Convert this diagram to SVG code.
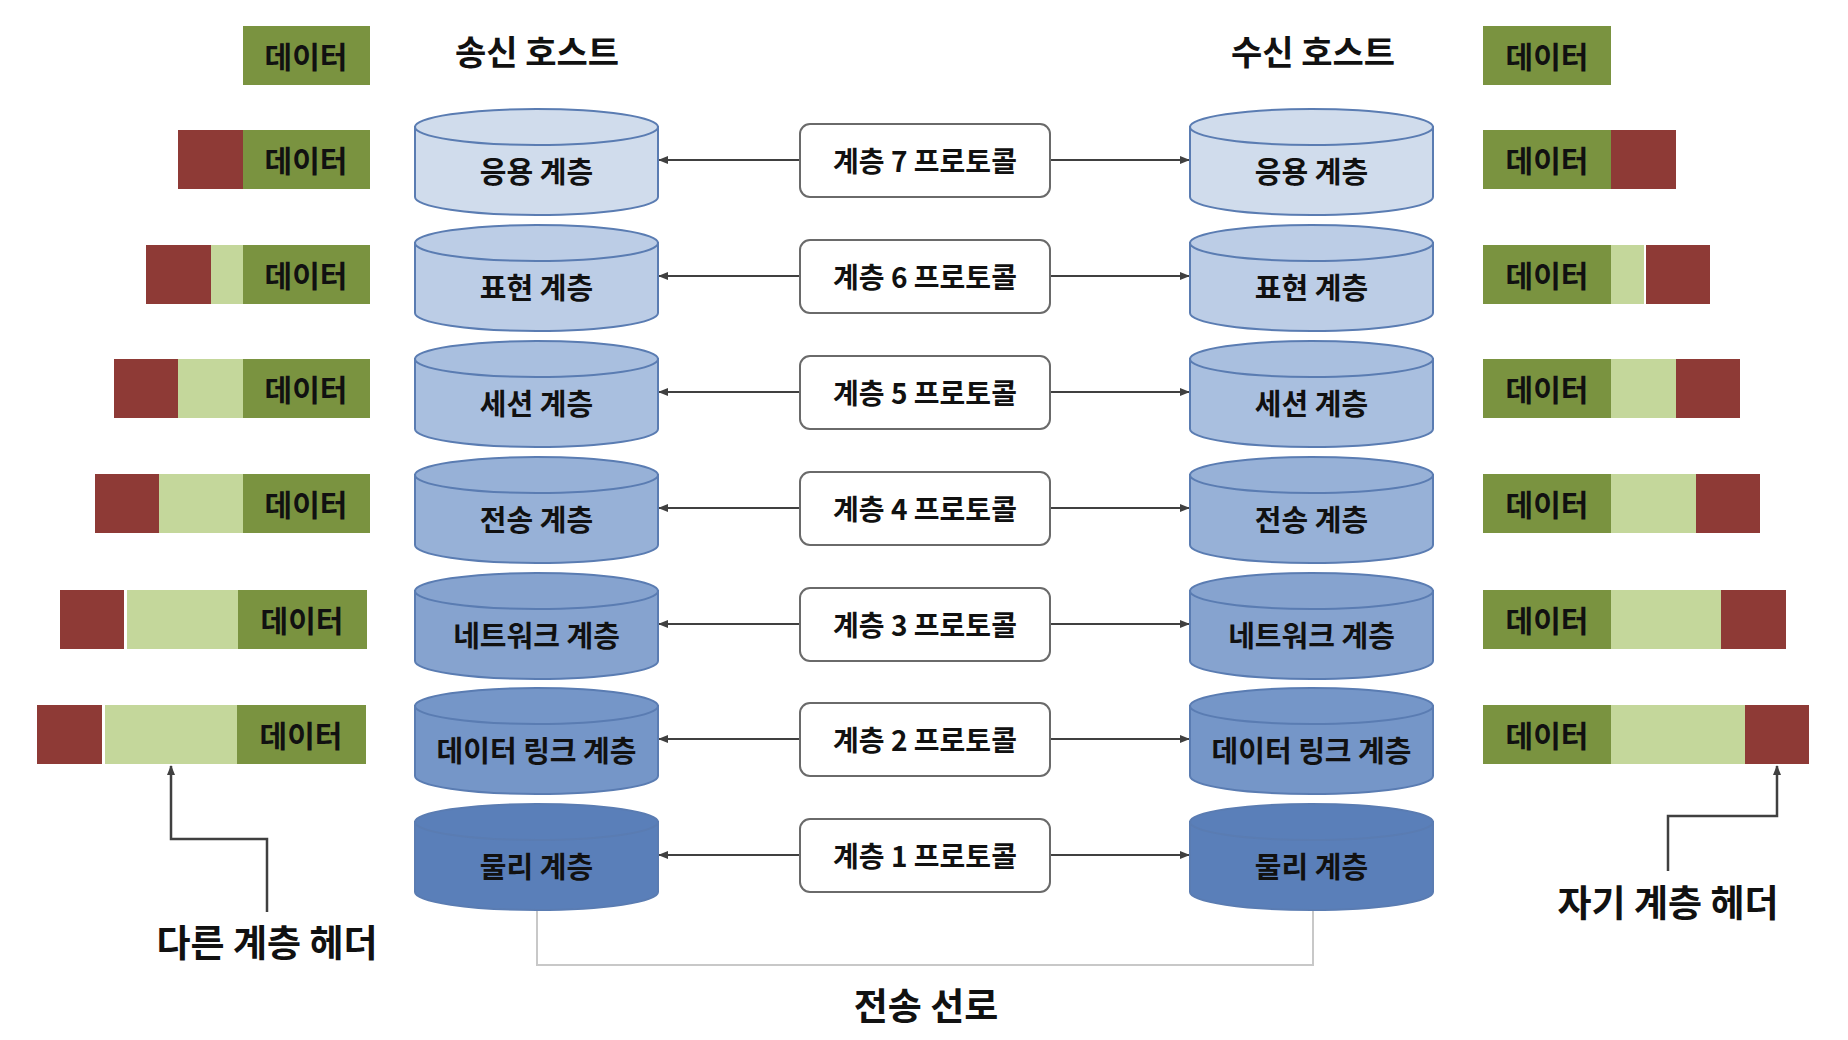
<svg xmlns="http://www.w3.org/2000/svg" width="1848" height="1040" viewBox="0 0 1848 1040">
<style>
text{font-family:"Noto Sans CJK KR","Noto Sans",sans-serif;font-weight:bold;fill:#111;text-anchor:middle;dominant-baseline:central}
.d{font-size:30px}
.c{font-size:29px}
.p{font-size:28px}
.ti{font-size:34px}
.big{font-size:37px}
.g{fill:#7a9340}
.lg{fill:#c4d79b}
.r{fill:#8e3a36}
.cyl{stroke:#5a7cb2;stroke-width:2}
.pb{fill:#fff;stroke:#6a6a6a;stroke-width:2}
.ar{stroke:#404040;stroke-width:2;fill:none}
.co{stroke:#404040;stroke-width:2.5;fill:none}
.tl{stroke:#c8c8c8;stroke-width:2;fill:none}
</style>
<defs>
<marker id="ah" markerWidth="10" markerHeight="8" refX="9" refY="4" orient="auto" markerUnits="userSpaceOnUse">
<path d="M0,0 L10,4 L0,8 Z" fill="#404040"/>
</marker>
</defs>
<rect width="1848" height="1040" fill="#fff"/>

<g id="titles">
<text class="ti" x="537" y="50">송신 호스트</text>
<text class="ti" x="1313" y="50">수신 호스트</text>
</g>

<g id="sender-data">
<g id="s0"><rect class="g" x="243" y="26" width="127" height="59"/><text class="d" x="306" y="55">데이터</text></g>
<g id="s1"><rect class="r" x="178" y="130" width="65" height="59"/><rect class="g" x="243" y="130" width="127" height="59"/><text class="d" x="306" y="159">데이터</text></g>
<g id="s2"><rect class="r" x="146" y="245" width="65" height="59"/><rect class="lg" x="211" y="245" width="32" height="59"/><rect class="g" x="243" y="245" width="127" height="59"/><text class="d" x="306" y="274">데이터</text></g>
<g id="s3"><rect class="r" x="114" y="359" width="64" height="59"/><rect class="lg" x="178" y="359" width="65" height="59"/><rect class="g" x="243" y="359" width="127" height="59"/><text class="d" x="306" y="388">데이터</text></g>
<g id="s4"><rect class="r" x="95" y="474" width="64" height="59"/><rect class="lg" x="159" y="474" width="84" height="59"/><rect class="g" x="243" y="474" width="127" height="59"/><text class="d" x="306" y="503">데이터</text></g>
<g id="s5"><rect class="r" x="60" y="590" width="64" height="59"/><rect class="lg" x="127" y="590" width="111" height="59"/><rect class="g" x="238" y="590" width="129" height="59"/><text class="d" x="302" y="619">데이터</text></g>
<g id="s6"><rect class="r" x="37" y="705" width="65" height="59"/><rect class="lg" x="105" y="705" width="132" height="59"/><rect class="g" x="237" y="705" width="129" height="59"/><text class="d" x="301" y="734">데이터</text></g>
</g>

<g id="receiver-data">
<g id="r0"><rect class="g" x="1483" y="26" width="128" height="59"/><text class="d" x="1547" y="55">데이터</text></g>
<g id="r1"><rect class="g" x="1483" y="130" width="128" height="59"/><rect class="r" x="1611" y="130" width="65" height="59"/><text class="d" x="1547" y="159">데이터</text></g>
<g id="r2"><rect class="g" x="1483" y="245" width="128" height="59"/><rect class="lg" x="1611" y="245" width="33" height="59"/><rect class="r" x="1646" y="245" width="64" height="59"/><text class="d" x="1547" y="274">데이터</text></g>
<g id="r3"><rect class="g" x="1483" y="359" width="128" height="59"/><rect class="lg" x="1611" y="359" width="65" height="59"/><rect class="r" x="1676" y="359" width="64" height="59"/><text class="d" x="1547" y="388">데이터</text></g>
<g id="r4"><rect class="g" x="1483" y="474" width="128" height="59"/><rect class="lg" x="1611" y="474" width="85" height="59"/><rect class="r" x="1696" y="474" width="64" height="59"/><text class="d" x="1547" y="503">데이터</text></g>
<g id="r5"><rect class="g" x="1483" y="590" width="128" height="59"/><rect class="lg" x="1611" y="590" width="110" height="59"/><rect class="r" x="1721" y="590" width="65" height="59"/><text class="d" x="1547" y="619">데이터</text></g>
<g id="r6"><rect class="g" x="1483" y="705" width="128" height="59"/><rect class="lg" x="1611" y="705" width="134" height="59"/><rect class="r" x="1745" y="705" width="64" height="59"/><text class="d" x="1547" y="734">데이터</text></g>
</g>

<g id="connectors">
<line class="ar" x1="800" y1="160" x2="659" y2="160" marker-end="url(#ah)"/>
<line class="ar" x1="1050" y1="160" x2="1189" y2="160" marker-end="url(#ah)"/>
<line class="ar" x1="800" y1="276" x2="659" y2="276" marker-end="url(#ah)"/>
<line class="ar" x1="1050" y1="276" x2="1189" y2="276" marker-end="url(#ah)"/>
<line class="ar" x1="800" y1="392" x2="659" y2="392" marker-end="url(#ah)"/>
<line class="ar" x1="1050" y1="392" x2="1189" y2="392" marker-end="url(#ah)"/>
<line class="ar" x1="800" y1="508" x2="659" y2="508" marker-end="url(#ah)"/>
<line class="ar" x1="1050" y1="508" x2="1189" y2="508" marker-end="url(#ah)"/>
<line class="ar" x1="800" y1="624" x2="659" y2="624" marker-end="url(#ah)"/>
<line class="ar" x1="1050" y1="624" x2="1189" y2="624" marker-end="url(#ah)"/>
<line class="ar" x1="800" y1="739" x2="659" y2="739" marker-end="url(#ah)"/>
<line class="ar" x1="1050" y1="739" x2="1189" y2="739" marker-end="url(#ah)"/>
<line class="ar" x1="800" y1="855" x2="659" y2="855" marker-end="url(#ah)"/>
<line class="ar" x1="1050" y1="855" x2="1189" y2="855" marker-end="url(#ah)"/>
<polyline class="tl" points="537,910 537,965 1313,965 1313,910"/>
<polyline class="co" points="267,912 267,839 171,839 171,766" marker-end="url(#ah)"/>
<polyline class="co" points="1668,871 1668,816 1777,816 1777,766" marker-end="url(#ah)"/>
</g>

<g id="sender-layers">
<g id="sl7"><path class="cyl" fill="#d0dcec" d="M415,127 V197 A121.5,18 0 0 0 658,197 V127 Z"/><ellipse class="cyl" fill="#d0dcec" cx="536.5" cy="127" rx="121.5" ry="18"/><text class="c" x="536.5" y="170">응용 계층</text></g>
<g id="sl6"><path class="cyl" fill="#bccde6" d="M415,243 V313 A121.5,18 0 0 0 658,313 V243 Z"/><ellipse class="cyl" fill="#bccde6" cx="536.5" cy="243" rx="121.5" ry="18"/><text class="c" x="536.5" y="286">표현 계층</text></g>
<g id="sl5"><path class="cyl" fill="#a9bfdf" d="M415,359 V429 A121.5,18 0 0 0 658,429 V359 Z"/><ellipse class="cyl" fill="#a9bfdf" cx="536.5" cy="359" rx="121.5" ry="18"/><text class="c" x="536.5" y="402">세션 계층</text></g>
<g id="sl4"><path class="cyl" fill="#97b1d7" d="M415,475 V545 A121.5,18 0 0 0 658,545 V475 Z"/><ellipse class="cyl" fill="#97b1d7" cx="536.5" cy="475" rx="121.5" ry="18"/><text class="c" x="536.5" y="518">전송 계층</text></g>
<g id="sl3"><path class="cyl" fill="#86a3cf" d="M415,591 V661 A121.5,18 0 0 0 658,661 V591 Z"/><ellipse class="cyl" fill="#86a3cf" cx="536.5" cy="591" rx="121.5" ry="18"/><text class="c" x="536.5" y="634">네트워크 계층</text></g>
<g id="sl2"><path class="cyl" fill="#7596c8" d="M415,706 V776 A121.5,18 0 0 0 658,776 V706 Z"/><ellipse class="cyl" fill="#7596c8" cx="536.5" cy="706" rx="121.5" ry="18"/><text class="c" x="536.5" y="749">데이터 링크 계층</text></g>
<g id="sl1"><path class="cyl" fill="#5a7fb9" d="M415,822 V892 A121.5,18 0 0 0 658,892 V822 Z"/><ellipse class="cyl" fill="#5a7fb9" cx="536.5" cy="822" rx="121.5" ry="18"/><text class="c" x="536.5" y="865">물리 계층</text></g>
</g>

<g id="receiver-layers">
<g id="rl7"><path class="cyl" fill="#d0dcec" d="M1190,127 V197 A121.5,18 0 0 0 1433,197 V127 Z"/><ellipse class="cyl" fill="#d0dcec" cx="1311.5" cy="127" rx="121.5" ry="18"/><text class="c" x="1311.5" y="170">응용 계층</text></g>
<g id="rl6"><path class="cyl" fill="#bccde6" d="M1190,243 V313 A121.5,18 0 0 0 1433,313 V243 Z"/><ellipse class="cyl" fill="#bccde6" cx="1311.5" cy="243" rx="121.5" ry="18"/><text class="c" x="1311.5" y="286">표현 계층</text></g>
<g id="rl5"><path class="cyl" fill="#a9bfdf" d="M1190,359 V429 A121.5,18 0 0 0 1433,429 V359 Z"/><ellipse class="cyl" fill="#a9bfdf" cx="1311.5" cy="359" rx="121.5" ry="18"/><text class="c" x="1311.5" y="402">세션 계층</text></g>
<g id="rl4"><path class="cyl" fill="#97b1d7" d="M1190,475 V545 A121.5,18 0 0 0 1433,545 V475 Z"/><ellipse class="cyl" fill="#97b1d7" cx="1311.5" cy="475" rx="121.5" ry="18"/><text class="c" x="1311.5" y="518">전송 계층</text></g>
<g id="rl3"><path class="cyl" fill="#86a3cf" d="M1190,591 V661 A121.5,18 0 0 0 1433,661 V591 Z"/><ellipse class="cyl" fill="#86a3cf" cx="1311.5" cy="591" rx="121.5" ry="18"/><text class="c" x="1311.5" y="634">네트워크 계층</text></g>
<g id="rl2"><path class="cyl" fill="#7596c8" d="M1190,706 V776 A121.5,18 0 0 0 1433,776 V706 Z"/><ellipse class="cyl" fill="#7596c8" cx="1311.5" cy="706" rx="121.5" ry="18"/><text class="c" x="1311.5" y="749">데이터 링크 계층</text></g>
<g id="rl1"><path class="cyl" fill="#5a7fb9" d="M1190,822 V892 A121.5,18 0 0 0 1433,892 V822 Z"/><ellipse class="cyl" fill="#5a7fb9" cx="1311.5" cy="822" rx="121.5" ry="18"/><text class="c" x="1311.5" y="865">물리 계층</text></g>
</g>

<g id="protocols">
<g id="p7"><rect class="pb" x="800" y="124" width="250" height="73" rx="10"/><text class="p" x="925" y="160">계층 7 프로토콜</text></g>
<g id="p6"><rect class="pb" x="800" y="240" width="250" height="73" rx="10"/><text class="p" x="925" y="276">계층 6 프로토콜</text></g>
<g id="p5"><rect class="pb" x="800" y="356" width="250" height="73" rx="10"/><text class="p" x="925" y="392">계층 5 프로토콜</text></g>
<g id="p4"><rect class="pb" x="800" y="472" width="250" height="73" rx="10"/><text class="p" x="925" y="508">계층 4 프로토콜</text></g>
<g id="p3"><rect class="pb" x="800" y="588" width="250" height="73" rx="10"/><text class="p" x="925" y="624">계층 3 프로토콜</text></g>
<g id="p2"><rect class="pb" x="800" y="703" width="250" height="73" rx="10"/><text class="p" x="925" y="739">계층 2 프로토콜</text></g>
<g id="p1"><rect class="pb" x="800" y="819" width="250" height="73" rx="10"/><text class="p" x="925" y="855">계층 1 프로토콜</text></g>
</g>

<g id="labels">
<text class="big" x="267" y="941">다른 계층 헤더</text>
<text class="big" x="1668" y="901">자기 계층 헤더</text>
<text class="big" x="926" y="1004">전송 선로</text>
</g>
</svg>
